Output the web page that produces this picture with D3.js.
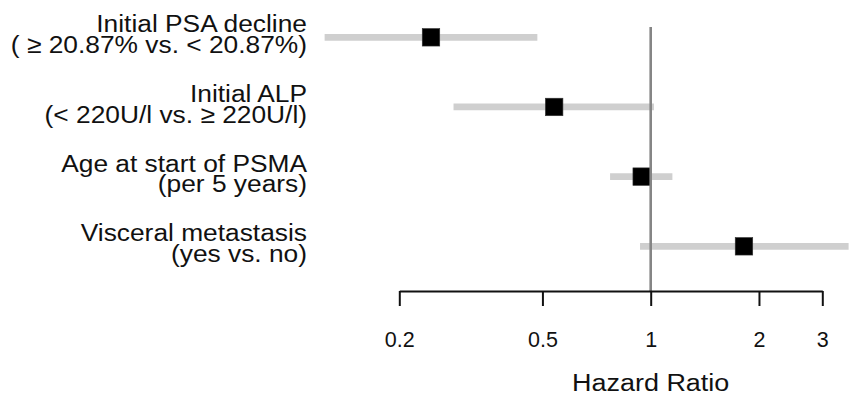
<!DOCTYPE html>
<html>
<head>
<meta charset="utf-8">
<script src="https://cdn.jsdelivr.net/npm/d3@7"></script>
<style>
  html, body { margin: 0; padding: 0; background: #fff; }
  svg { display: block; font-family: "Liberation Sans", Arial, Helvetica, sans-serif; }
</style>
</head>
<body>
<svg id="chart" width="851" height="395"></svg>
<script>
// ---- data ----
const labelLine1 = ["Initial PSA decline", "Initial ALP", "Age at start of PSMA", "Visceral metastasis"];
const labelLine2 = ["( \u2265 20.87% vs. < 20.87%)", "(< 220U/l vs.  \u2265 220U/l)", "(per 5 years)", "(yes vs. no)"];
const hazardRatio = [0.245, 0.539, 0.944, 1.817];
const ciLower = [0.124, 0.283, 0.771, 0.934];
const ciUpper = [0.484, 1.021, 1.149, 3.55];
const tickValues = [0.2, 0.5, 1, 2, 3];
const tickLabels = ["0.2", "0.5", "1", "2", "3"];
const axisTitle = "Hazard Ratio";

// ---- layout ----
const svg = d3.select("#chart");
const x = d3.scaleLog().domain([0.2, 3]).range([399.3, 822.3]);
const y = d3.scalePoint().domain(d3.range(labelLine1.length)).range([37.3, 246.3]);
const axisY = 291;
const stretch = 1.075;

const rows = labelLine1.map((d, i) => ({ i, l1: d, l2: labelLine2[i], hr: hazardRatio[i], lo: ciLower[i], hi: ciUpper[i] }));

// CI lines
svg.append("g").selectAll("line").data(rows).join("line")
  .attr("x1", d => x(d.lo)).attr("x2", d => x(d.hi))
  .attr("y1", d => y(d.i)).attr("y2", d => y(d.i))
  .attr("stroke", "#cfcfcf").attr("stroke-width", 6.7);

// squares
const sq = 17.5;
svg.append("g").selectAll("rect").data(rows).join("rect")
  .attr("x", d => x(d.hr) - sq / 2).attr("y", d => y(d.i) - sq / 2)
  .attr("width", sq).attr("height", sq)
  .attr("fill", "#000").attr("stroke", "#333").attr("stroke-width", 0.6);

// reference line at HR = 1
svg.append("line")
  .attr("x1", x(1)).attr("x2", x(1))
  .attr("y1", 27).attr("y2", axisY)
  .attr("stroke", "#858585").attr("stroke-width", 2.6);

// labels (two-line, one text element each)
const lab = svg.append("g").attr("font-size", 24.5).attr("fill", "#111").attr("text-anchor", "end");
const t = lab.selectAll("text").data(rows).join("text")
  .attr("transform", d => `translate(307,${y(d.i) - 5}) scale(${stretch},1)`);
t.append("tspan").attr("x", 0).attr("y", 0).text(d => d.l1);
t.append("tspan").attr("x", 0).attr("y", 20.7).text(d => d.l2);

// axis
const axis = d3.axisBottom(x)
  .tickValues(tickValues)
  .tickFormat((d, i) => tickLabels[i])
  .tickSize(15).tickSizeOuter(0).tickPadding(26);
const ga = svg.append("g").attr("transform", `translate(0,${axisY})`).call(axis);
ga.select(".domain").attr("stroke", "#111").attr("stroke-width", 2);
ga.selectAll(".tick line").attr("stroke", "#111").attr("stroke-width", 2);
ga.selectAll(".tick text").attr("font-size", 21.5).attr("fill", "#111")
  .attr("font-family", "'Liberation Sans', Arial, sans-serif");

// axis title
svg.append("text")
  .attr("transform", `translate(${x(1)},391) scale(1.1,1)`)
  .attr("text-anchor", "middle").attr("font-size", 24.5).attr("fill", "#111")
  .text(axisTitle);
</script>
</body>
</html>
